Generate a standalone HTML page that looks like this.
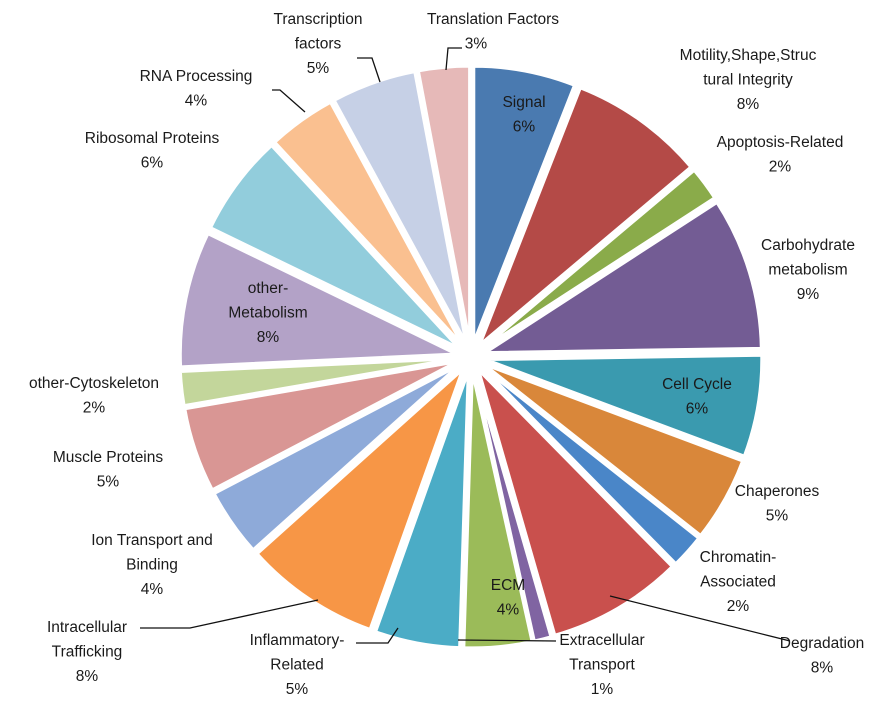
<!DOCTYPE html>
<html><head><meta charset="utf-8"><style>
html,body{margin:0;padding:0;background:#fff;}
svg text{font-family:"Liberation Sans",sans-serif;font-size:15.5px;fill:#1a1a1a;text-anchor:middle;}
</style></head><body>
<svg id="chart" width="888" height="711" viewBox="0 0 888 711" xmlns="http://www.w3.org/2000/svg">
<g id="slices"></g>
<circle cx="471" cy="357" r="20" fill="#fff"/>
<g id="leaders" stroke="#111" stroke-width="1.3" fill="none">
<polyline points="357,58 372,58 380,82"/>
<polyline points="462,48 448,48 446,70"/>
<polyline points="272,90 280,90 305,112"/>
<polyline points="610,596 790,641"/>
<polyline points="458,640 556,641"/>
<polyline points="356,643 388,643 398,628"/>
<polyline points="140,628 190,628 318,600"/>
</g>
<g id="labels"></g>
</svg>
<script>
const categories=["Signal","Motility,Shape,Structural Integrity","Apoptosis-Related","Carbohydrate metabolism","Cell Cycle","Chaperones","Chromatin-Associated","Degradation","Extracellular Transport","ECM","Inflammatory-Related","Intracellular Trafficking","Ion Transport and Binding","Muscle Proteins","other-Cytoskeleton","other-Metabolism","Ribosomal Proteins","RNA Processing","Transcription factors","Translation Factors"];
const values=[6,8,2,9,6,5,2,8,1,4,5,8,4,5,2,8,6,4,5,3];
const percentLabels=["6%","8%","2%","9%","6%","5%","2%","8%","1%","4%","5%","8%","4%","5%","2%","8%","6%","4%","5%","3%"];
const colors=["#4a7ab0","#b44a47","#8aab4a","#735c94","#3a9aaf","#d9873a","#4a86c8","#c9504d","#8064a2","#9bbb59","#4bacc6","#f79646","#8eaad9","#d99694","#c3d69b","#b3a2c7","#92cddc","#fac090","#c6d0e6","#e6b9b8"];
const labelLines=[["Signal"],["Motility,Shape,Struc","tural Integrity"],["Apoptosis-Related"],["Carbohydrate","metabolism"],["Cell Cycle"],["Chaperones"],["Chromatin-","Associated"],["Degradation"],["Extracellular","Transport"],["ECM"],["Inflammatory-","Related"],["Intracellular","Trafficking"],["Ion Transport and","Binding"],["Muscle Proteins"],["other-Cytoskeleton"],["other-","Metabolism"],["Ribosomal Proteins"],["RNA Processing"],["Transcription","factors"],["Translation Factors"]];
const labelAnchor=[[524,107],[748,60],[780,147],[808,250],[697,389],[777,496],[738,562],[822,648],[602,645],[508,590],[297,645],[87,632],[152,545],[108,462],[94,388],[268,293],[152,143],[196,81],[318,24],[493,24]];
const cx=471,cy=357,R=276,explode=15;
const NS="http://www.w3.org/2000/svg";
const total=values.reduce((a,b)=>a+b,0);
function angleOf(v){return v/total*Math.PI*2;}
const gS=document.getElementById('slices');
let a=0;
values.forEach((v,i)=>{
  const a0=a,a1=a+angleOf(v);a=a1;
  const mid=(a0+a1)/2;
  const ox=cx+explode*Math.sin(mid),oy=cy-explode*Math.cos(mid);
  const x0=ox+R*Math.sin(a0),y0=oy-R*Math.cos(a0),x1=ox+R*Math.sin(a1),y1=oy-R*Math.cos(a1);
  const p=document.createElementNS(NS,'path');
  p.setAttribute('d',`M${ox},${oy}L${x0},${y0}A${R},${R} 0 ${a1-a0>Math.PI?1:0} 1 ${x1},${y1}Z`);
  p.setAttribute('fill',colors[i]);
  p.setAttribute('stroke','#fff');p.setAttribute('stroke-width','3');p.setAttribute('stroke-linejoin','round');
  
  
  gS.appendChild(p);
});
const gL=document.getElementById('labels');
labelLines.forEach((lines,i)=>{
  const [x,y]=labelAnchor[i];
  const t=document.createElementNS(NS,'text');
  
  
  const all=lines.concat([percentLabels[i]]);
  all.forEach((s,j)=>{
    const ts=document.createElementNS(NS,'tspan');
    ts.setAttribute('x',(i===19&&j===1)?476:x);
    ts.setAttribute('y',y+j*24.5);
    ts.textContent=s;t.appendChild(ts);
  });
  gL.appendChild(t);
});
</script>
</body></html>
